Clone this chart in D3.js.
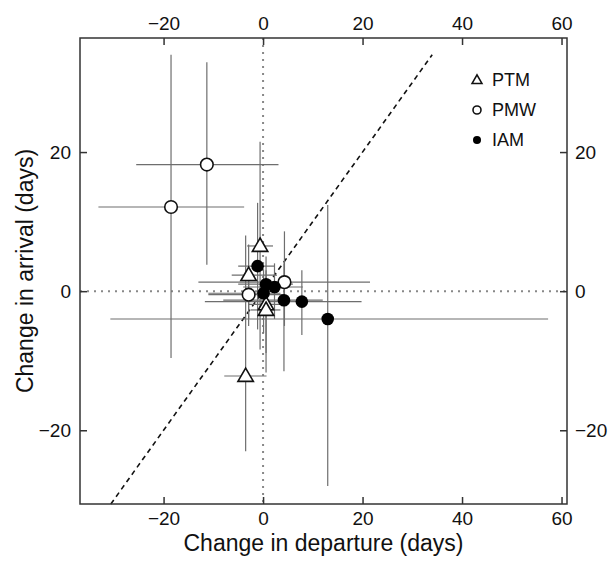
<!DOCTYPE html>
<html>
<head>
<meta charset="utf-8">
<script src="https://cdn.jsdelivr.net/npm/d3@7"></script>
<style>
  body { margin: 0; background: #fff; }
  text { font-family: "Liberation Sans", Arial, sans-serif; fill: #111; }
</style>
</head>
<body>
<div id="chart"></div>
<script>
// change in departure / arrival (days) with CI ranges, per tracking method
const ptm = [
  { dep: -0.6, arr: 6.5, depLo: -3.2, depHi: 2.0, arrLo: -8.4, arrHi: 21.5 },
  { dep: -2.9, arr: 2.3, depLo: -6.3, depHi: 2.8, arrLo: -4.0, arrHi: 6.7 },
  { dep: 0.6, arr: -1.9, depLo: -3.0, depHi: 4.0, arrLo: -8.9, arrHi: 3.0 },
  { dep: 0.6, arr: -2.7, depLo: -2.5, depHi: 3.5, arrLo: -11.7, arrHi: 2.0 },
  { dep: -3.5, arr: -12.2, depLo: -7.8, depHi: 0.7, arrLo: -23.0, arrHi: 8.0 }
];
const pmw = [
  { dep: -11.3, arr: 18.2, depLo: -25.5, depHi: 3.1, arrLo: 3.8, arrHi: 32.9 },
  { dep: -18.5, arr: 12.1, depLo: -33.1, depHi: -3.8, arrLo: -9.6, arrHi: 34.0 },
  { dep: 4.3, arr: 1.3, depLo: -13.0, depHi: 21.5, arrLo: -5.0, arrHi: 8.6 },
  { dep: -2.9, arr: -0.5, depLo: -11.0, depHi: 4.0, arrLo: -5.0, arrHi: 3.0 }
];
const iam = [
  { dep: -1.1, arr: 3.6, depLo: -5.0, depHi: 2.4, arrLo: -5.5, arrHi: 12.7 },
  { dep: 0.6, arr: 1.0, depLo: -5.0, depHi: 6.0, arrLo: -3.0, arrHi: 5.0 },
  { dep: 2.3, arr: 0.6, depLo: -4.0, depHi: 8.0, arrLo: -4.0, arrHi: 4.0 },
  { dep: 0.1, arr: -0.3, depLo: -11.0, depHi: 3.5, arrLo: -6.0, arrHi: 3.0 },
  { dep: 4.2, arr: -1.3, depLo: -8.0, depHi: 12.0, arrLo: -11.5, arrHi: 4.0 },
  { dep: 7.8, arr: -1.5, depLo: -11.7, depHi: 19.8, arrLo: -6.3, arrHi: 3.0 },
  { dep: 13.0, arr: -4.0, depLo: -30.7, depHi: 57.3, arrLo: -28.0, arrHi: 12.4 }
];
const xTicks = [-20, 0, 20, 40, 60];
const yTicks = [-20, 0, 20];
const legendLabels = ["PTM", "PMW", "IAM"];
const oneToOne = [-30.6, 34];

const width = 614, height = 562;
const box = { left: 80, right: 567, top: 38, bottom: 504 };

const svg = d3.select("#chart")
  .append("svg")
  .attr("width", width)
  .attr("height", height);

const x = d3.scaleLinear().domain([-36.8, 61.1]).range([box.left, box.right]);
const y = d3.scaleLinear().domain([-30.6, 36.4]).range([box.bottom, box.top]);

// reference lines
const plot = svg.append("g");
plot.append("line")
  .attr("x1", x(0)).attr("x2", x(0))
  .attr("y1", box.top).attr("y2", box.bottom)
  .attr("stroke", "#888").attr("stroke-width", 2)
  .attr("stroke-dasharray", "2,5");
plot.append("line")
  .attr("x1", box.left).attr("x2", box.right)
  .attr("y1", y(0)).attr("y2", y(0))
  .attr("stroke", "#888").attr("stroke-width", 2)
  .attr("stroke-dasharray", "2,5");
plot.append("line")
  .attr("x1", x(oneToOne[0])).attr("y1", y(oneToOne[0]))
  .attr("x2", x(oneToOne[1])).attr("y2", y(oneToOne[1]))
  .attr("stroke", "#111").attr("stroke-width", 1.6)
  .attr("stroke-dasharray", "5,4");

const all = [
  ...ptm.map(d => ({ ...d, type: "ptm" })),
  ...pmw.map(d => ({ ...d, type: "pmw" })),
  ...iam.map(d => ({ ...d, type: "iam" }))
];

// error bars
plot.selectAll(".hbar")
  .data(all)
  .join("line")
  .attr("class", "hbar")
  .attr("x1", d => x(d.depLo)).attr("x2", d => x(d.depHi))
  .attr("y1", d => y(d.arr)).attr("y2", d => y(d.arr))
  .attr("stroke", "#6e6e6e").attr("stroke-width", 1.2);
plot.selectAll(".vbar")
  .data(all)
  .join("line")
  .attr("class", "vbar")
  .attr("x1", d => x(d.dep)).attr("x2", d => x(d.dep))
  .attr("y1", d => y(d.arrLo)).attr("y2", d => y(d.arrHi))
  .attr("stroke", "#6e6e6e").attr("stroke-width", 1.2);

const tri = d3.symbol().type(d3.symbolTriangle);

function drawMark(sel, type, r) {
  if (type === "ptm") {
    sel.append("path")
      .attr("d", tri.size(r * r * 2.6)())
      .attr("transform", "translate(0," + (r * 0.15) + ")")
      .attr("fill", "#fff").attr("stroke", "#111").attr("stroke-width", 1.6);
  } else if (type === "pmw") {
    sel.append("circle").attr("r", r)
      .attr("fill", "#fff").attr("stroke", "#111").attr("stroke-width", 1.6);
  } else {
    sel.append("circle").attr("r", r)
      .attr("fill", "#000");
  }
}

plot.selectAll(".pt")
  .data(all)
  .join("g")
  .attr("class", "pt")
  .attr("transform", d => `translate(${x(d.dep)},${y(d.arr)})`)
  .each(function (d) { drawMark(d3.select(this), d.type, 6.3); });

// axes, ticks pointing inward
const fmt = d3.format("d");
svg.append("g")
  .attr("transform", `translate(0,${box.bottom})`)
  .call(d3.axisBottom(x).tickValues(xTicks).tickFormat(fmt).tickSizeInner(-7).tickSizeOuter(0).tickPadding(8));
svg.append("g")
  .attr("transform", `translate(0,${box.top})`)
  .call(d3.axisTop(x).tickValues(xTicks).tickFormat(fmt).tickSizeInner(-7).tickSizeOuter(0).tickPadding(8));
svg.append("g")
  .attr("transform", `translate(${box.left},0)`)
  .call(d3.axisLeft(y).tickValues(yTicks).tickFormat(fmt).tickSizeInner(-7).tickSizeOuter(0).tickPadding(9));
svg.append("g")
  .attr("transform", `translate(${box.right},0)`)
  .call(d3.axisRight(y).tickValues(yTicks).tickFormat(fmt).tickSizeInner(-7).tickSizeOuter(0).tickPadding(8));

svg.selectAll(".tick text").attr("font-size", 19).attr("font-family", "Liberation Sans, Arial, sans-serif").attr("fill", "#111");
svg.selectAll(".tick line").attr("stroke", "#333").attr("stroke-width", 1.5);
svg.selectAll(".domain").remove();

svg.append("rect")
  .attr("x", box.left).attr("y", box.top)
  .attr("width", box.right - box.left).attr("height", box.bottom - box.top)
  .attr("fill", "none").attr("stroke", "#333").attr("stroke-width", 1.5);

// titles
svg.append("text")
  .attr("x", (box.left + box.right) / 2)
  .attr("y", 551)
  .attr("text-anchor", "middle")
  .attr("font-size", 23)
  .text("Change in departure (days)");
svg.append("text")
  .attr("transform", `translate(33,${(box.top + box.bottom) / 2}) rotate(-90)`)
  .attr("text-anchor", "middle")
  .attr("font-size", 23)
  .text("Change in arrival (days)");

// legend
const legend = svg.append("g")
  .selectAll("g")
  .data(legendLabels)
  .join("g")
  .attr("transform", (d, i) => `translate(477,${80 + i * 30})`);
legend.each(function (d, i) {
  drawMark(d3.select(this), ["ptm", "pmw", "iam"][i], 4);
});
legend.append("text")
  .attr("x", 15)
  .attr("dy", "0.35em")
  .attr("font-size", 18)
  .text(d => d);
</script>
</body>
</html>
